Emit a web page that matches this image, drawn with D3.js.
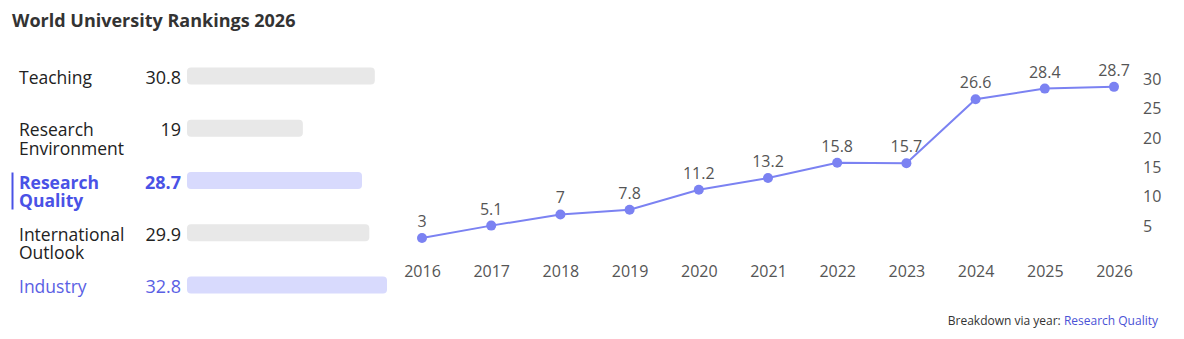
<!DOCTYPE html>
<html><head><meta charset="utf-8">
<script src="https://cdn.jsdelivr.net/npm/d3@7"></script>
<style>body{margin:0;background:#fff;font-family:"Open Sans",sans-serif}</style>
</head><body>
<svg id="c" width="1184" height="339"></svg>
<script>
const title = "World University Rankings 2026";
const pillars = [["Teaching"], ["Research", "Environment"], ["Research", "Quality"], ["International", "Outlook"], ["Industry"]];
const pillarScores = [30.8, 19, 28.7, 29.9, 32.8];
const years = ["2016","2017","2018","2019","2020","2021","2022","2023","2024","2025","2026"];
const rqValues = [3, 5.1, 7, 7.8, 11.2, 13.2, 15.8, 15.7, 26.6, 28.4, 28.7];
const yTicks = [5, 10, 15, 20, 25, 30];
const selectedIdx = 2, highlightIdx = [2, 4];

const svg = d3.select("#c");
const blue = "#4a52e6", lightBlue = "#5a60e4";
svg.append("text").attr("x", 12).attr("y", 27).attr("font-size", 18).attr("font-weight", 700)
  .attr("fill", "#333").text(title);

// bars
const xb = d3.scaleLinear().domain([0, 32.8]).range([0, 200]);
const yb = d3.scalePoint().domain(d3.range(pillars.length)).range([76, 285]);
const g = svg.append("g");
pillars.forEach((lines, i) => {
  const cy = yb(i);
  const sel = i === selectedIdx, hl = highlightIdx.includes(i);
  const col = sel ? blue : (hl ? lightBlue : "#222");
  g.append("rect").attr("x", 187).attr("y", cy - 8.5).attr("width", xb(pillarScores[i])).attr("height", 17)
    .attr("rx", 4).attr("fill", hl ? "#d8dafd" : "#e8e8e8");
  lines.forEach((l, k) => g.append("text").attr("x", 19).attr("y", cy + 8 + k * 18.5)
    .attr("font-size", 17.5).attr("fill", col).attr("font-weight", sel ? 700 : 400).text(l));
  g.append("text").attr("x", 181).attr("y", cy + 8).attr("text-anchor", "end").attr("font-size", 18)
    .attr("fill", col).attr("font-weight", sel ? 700 : 400).text(pillarScores[i]);
  if (sel) g.append("line").attr("x1", 12.5).attr("x2", 12.5).attr("y1", cy - 8).attr("y2", cy + 29)
    .attr("stroke", blue).attr("stroke-width", 2);
});

// line chart
const x = d3.scalePoint().domain(years).range([422, 1114]);
const y = d3.scaleLinear().domain([0, 30]).range([255.6, 79.2]);
const lc = "#7b82f2";
svg.append("path").datum(rqValues.map((v, i) => [x(years[i]), y(v)]))
  .attr("d", d3.line()).attr("fill", "none").attr("stroke", lc).attr("stroke-width", 2);
svg.selectAll("circle.p").data(rqValues).join("circle").attr("class", "p")
  .attr("cx", (d, i) => x(years[i])).attr("cy", d => y(d)).attr("r", 5).attr("fill", lc);
svg.selectAll("text.v").data(rqValues).join("text").attr("class", "v")
  .attr("x", (d, i) => x(years[i])).attr("y", d => y(d) - 11).attr("text-anchor", "middle")
  .attr("font-size", 16).attr("fill", "#555").text(d => d);

const xa = svg.append("g").attr("transform", "translate(0,266)")
  .call(d3.axisBottom(x).tickSize(0).tickPadding(0));
xa.select(".domain").remove();
xa.selectAll("text").attr("font-size", 16).attr("fill", "#555").attr("font-family", "Open Sans");

const ya = svg.append("g").attr("transform", "translate(1143,0)")
  .call(d3.axisRight(y).tickValues(yTicks).tickSize(0).tickPadding(0));
ya.select(".domain").remove();
ya.selectAll("text").attr("font-size", 16).attr("fill", "#555").attr("font-family", "Open Sans");

const f = svg.append("text").attr("x", 1158).attr("y", 325).attr("text-anchor", "end").attr("font-size", 12);
f.append("tspan").attr("fill", "#333").text("Breakdown via year: ");
f.append("tspan").attr("fill", "#4a52d6").text("Research Quality");
</script>
</body></html>
